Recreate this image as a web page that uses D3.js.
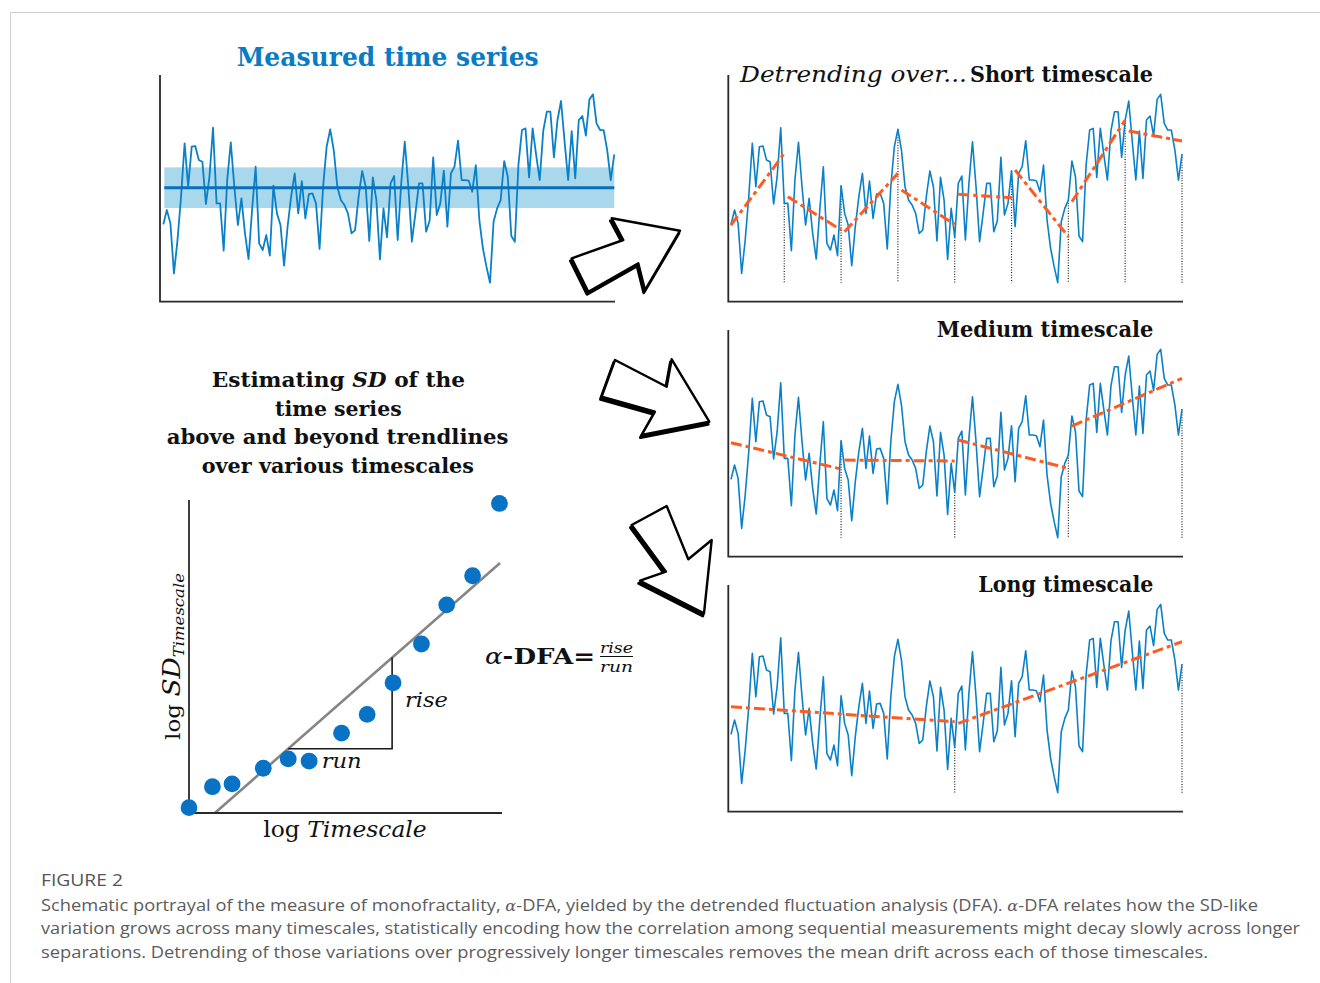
<!DOCTYPE html>
<html>
<head>
<meta charset="utf-8">
<script src="https://cdn.jsdelivr.net/npm/d3@7"></script>
<style>
  body { margin: 0; background: #fff; }
  text { font-family: "DejaVu Serif", serif; }
</style>
</head>
<body>
<script>
// measured time series (128 samples, arbitrary units, mean ~0)
const series = [
  -11.0, -6.7, -10.7, -25.7, -15.7, -2.7, 13.3, 0.3, 12.3, 12.5, 8.3, 7.8, -4.9, 3.3, 18.0, -4.7,
  -4.7, -18.9, 2.3, 13.6, 0.3, -11.2, -3.2, -13.7, -21.4, -6.7, 6.3, -16.7, -18.7, -14.2, -20.4, 0.6,
  -7.7, -11.2, -23.4, -11.7, -2.7, 4.3, -7.7, 2.0, -9.2, -1.9, -1.7, -4.7, -18.4, 0.3, 12.3, 17.5,
  11.3, 0.3, -3.7, -5.2, -7.7, -13.7, -12.7, -2.7, 5.0, 0.3, -16.0, 3.1, -3.7, -21.5, -6.2, -14.9,
  1.3, 3.5, -15.7, 1.3, 13.8, 0.3, -16.2, -7.7, 1.3, 1.3, -13.2, -9.9, 9.1, -8.2, -4.7, 5.1,
  -11.7, 4.3, 6.3, 14.1, 2.3, 2.3, 2.1, -1.2, 6.8, -9.7, -18.2, -23.7, -28.5, -10.2, -6.2, -3.7,
  8.0, 3.3, -14.5, -16.2, 6.8, 17.3, 17.8, 3.1, 17.8, 9.8, 2.3, 17.1, 22.8, 22.8, 9.1, 20.3,
  26.0, 13.8, 2.3, 17.0, 2.8, 20.3, 21.5, 15.6, 26.5, 28.0, 19.3, 17.3, 17.3, 11.3, 2.3, 10.0
];
const meanLevel = 0;
const bandHalf = 6.1;

// trend lines per window: [start value, end value]
const shortTrend = [[-11.2, 10.3], [-2.7, -12.7], [-13.2, 4.3], [-0.7, -11.0],
                    [-2.0, -3.0], [5.3, -14.7], [-4.2, 20.3], [17.0, 14.0]];
const mediumTrend = [[0.0, -7.9], [-5.2, -5.5], [0.8, -7.7], [5.0, 19.3]];
const longTrend = [[-2.7, -7.2], [-7.7, 16.8]];

const panelNames = ['Short timescale', 'Medium timescale', 'Long timescale'];

// log-log scatter
const logTimescale = [0.0, 0.75, 1.38, 2.38, 3.18, 3.85, 4.89, 5.71, 6.54, 7.45, 8.26, 9.09, 9.95];
const logSD = [0.17, 0.84, 0.93, 1.43, 1.73, 1.66, 2.55, 3.15, 4.16, 5.40, 6.65, 7.58, 9.89];
const fitLine = [[0.83, 0.0], [9.97, 7.99]];
const triangleRun = [3.18, 6.51];

const titleLines = ['Estimating ', 'time series', 'above and beyond trendlines', 'over various timescales'];
const captionLines = [
  ['Schematic portrayal of the measure of monofractality, ', 'α', '-DFA, yielded by the detrended fluctuation analysis (DFA). ', 'α', '-DFA relates how the SD-like'],
  ['variation grows across many timescales, statistically encoding how the correlation among sequential measurements might decay slowly across longer'],
  ['separations. Detrending of those variations over progressively longer timescales removes the mean drift across each of those timescales.']
];

const w = 1320;
const h = 983;
const blue = '#0a80c8';
const orange = '#ff5a1f';

const svg = d3.select('body').append('svg')
  .attr('width', w)
  .attr('height', h);

// frame
svg.append('path')
  .attr('d', 'M10.5,983 V12.5 H1320')
  .attr('fill', 'none')
  .attr('stroke', '#cfcfcf')
  .attr('stroke-width', 1);

const seriesMin = d3.min(series);

// ---- measured time series (top left)
const xL = d3.scaleLinear().domain([0, series.length - 1]).range([163.3, 614.3]);
const yL = d3.scaleLinear().domain([-30, 30]).range([287.7, 87.7]);

svg.append('text')
  .attr('x', 236.7).attr('y', 66)
  .attr('textLength', 302).attr('lengthAdjust', 'spacingAndGlyphs')
  .attr('font-size', 26).attr('font-weight', 'bold')
  .attr('fill', '#0a7cc6')
  .text('Measured time series');

svg.append('rect')
  .attr('x', 164.3).attr('width', 450)
  .attr('y', yL(meanLevel + bandHalf))
  .attr('height', yL(meanLevel - bandHalf) - yL(meanLevel + bandHalf))
  .attr('fill', '#a9d7ec');

svg.append('path')
  .datum(series)
  .attr('d', d3.line().x((d, i) => xL(i)).y(d => yL(d)))
  .attr('fill', 'none')
  .attr('stroke', blue)
  .attr('stroke-width', 1.8)
  .attr('stroke-linejoin', 'round');

svg.append('line')
  .attr('x1', 164.3).attr('x2', 614.3)
  .attr('y1', yL(meanLevel)).attr('y2', yL(meanLevel))
  .attr('stroke', '#0a6fb8')
  .attr('stroke-width', 3);

function axesL(g, x0, y0, x1, y1) {
  g.append('path')
    .attr('d', `M${x0},${y0} V${y1} H${x1}`)
    .attr('fill', 'none')
    .attr('stroke', '#2a2a2a')
    .attr('stroke-width', 1.8);
}
axesL(svg, 160, 75, 615, 301.7);

// ---- detrended panels (right)
const xR = d3.scaleLinear().domain([0, series.length - 1]).range([731, 1182]);
const panels = [
  { trend: shortTrend, dy: 0, name: panelNames[0] },
  { trend: mediumTrend, dy: 255, name: panelNames[1] },
  { trend: longTrend, dy: 510, name: panelNames[2] }
];

panels.forEach(p => {
  const yR = d3.scaleLinear().domain([-30, 30]).range([287.7 + p.dy, 87.7 + p.dy]);
  const n = series.length / p.trend.length;
  const ends = p.trend.map((t, k) => (k + 1) * n - 1);
  const g = svg.append('g');

  axesL(g, 728.3, 75 + p.dy, 1183, 301.7 + p.dy);

  g.selectAll('line.sep')
    .data(ends)
    .enter()
    .append('line')
    .attr('x1', d => xR(d)).attr('x2', d => xR(d))
    .attr('y1', d => yR(series[d])).attr('y2', yR(seriesMin))
    .attr('stroke', '#222')
    .attr('stroke-width', 1.2)
    .attr('stroke-dasharray', '1,1.6');

  g.append('path')
    .datum(series)
    .attr('d', d3.line().x((d, i) => xR(i)).y(d => yR(d)))
    .attr('fill', 'none')
    .attr('stroke', blue)
    .attr('stroke-width', 1.6)
    .attr('stroke-linejoin', 'round');

  g.selectAll('line.trend')
    .data(p.trend)
    .enter()
    .append('line')
    .attr('x1', (d, k) => xR(k * n)).attr('x2', (d, k) => xR(k * n + n - 1))
    .attr('y1', d => yR(d[0])).attr('y2', d => yR(d[1]))
    .attr('stroke', orange)
    .attr('stroke-width', 3)
    .attr('stroke-dasharray', '11,4,4,4');

  const t = g.append('text')
    .attr('font-size', 22)
    .attr('font-weight', 'bold')
    .attr('fill', '#111');
  if (p.dy === 0) {
    g.append('text')
      .attr('x', 740).attr('y', 82)
      .attr('textLength', 227).attr('lengthAdjust', 'spacingAndGlyphs')
      .attr('font-size', 22).attr('font-style', 'italic')
      .attr('fill', '#111')
      .text('Detrending over...');
    t.attr('x', 970).attr('y', 82).attr('textLength', 183);
  } else if (p.dy === 255) {
    t.attr('x', 936.7).attr('y', 337).attr('textLength', 216.6);
  } else {
    t.attr('x', 978.3).attr('y', 592).attr('textLength', 175);
  }
  t.attr('lengthAdjust', 'spacingAndGlyphs').text(p.name);
});

// ---- arrows
const arrows = [
  [[571.7, 258.3], [623.3, 240], [611.7, 218.3], [680, 230.7], [645, 290], [638.3, 263.3], [588.3, 291.7]],
  [[615, 360], [666.7, 386.7], [671.7, 359.3], [709.3, 421.7], [641.7, 435], [655, 411.7], [601.7, 396.7]],
  [[631.7, 525], [666.7, 506], [688.3, 559.3], [711.7, 540], [704, 613.3], [640, 580.7], [666, 571.7]]
];
arrows.forEach(a => {
  const pts = a.map(d => d.join(',')).join(' ');
  svg.append('polygon')
    .attr('points', pts)
    .attr('transform', 'translate(-1.2,2.6)')
    .attr('fill', '#000')
    .attr('stroke', '#000')
    .attr('stroke-width', 3)
    .attr('stroke-linejoin', 'round');
  svg.append('polygon')
    .attr('points', pts)
    .attr('fill', '#fff')
    .attr('stroke', '#000')
    .attr('stroke-width', 2.4)
    .attr('stroke-linejoin', 'round');
});

// ---- explanatory block
const blockSpec = [
  { x: 211.7, y: 387.3, len: 253.3 },
  { x: 275, y: 416, len: 126.7 },
  { x: 166.7, y: 444.3, len: 341.7 },
  { x: 201.7, y: 472.7, len: 272.3 }
];
titleLines.forEach((s, i) => {
  const t = svg.append('text')
    .attr('x', blockSpec[i].x).attr('y', blockSpec[i].y)
    .attr('textLength', blockSpec[i].len).attr('lengthAdjust', 'spacingAndGlyphs')
    .attr('font-size', 21).attr('font-weight', 'bold')
    .attr('fill', '#111');
  t.append('tspan').text(s);
  if (i === 0) {
    t.append('tspan').attr('font-style', 'italic').text('SD');
    t.append('tspan').text(' of the');
  }
});

// ---- log-log scatter
const xS = d3.scaleLinear().domain([0, 10]).range([189, 501]);
const yS = d3.scaleLinear().domain([0, 10]).range([813, 500]);

svg.append('line')
  .attr('x1', xS(fitLine[0][0])).attr('y1', yS(fitLine[0][1]))
  .attr('x2', xS(fitLine[1][0])).attr('y2', yS(fitLine[1][1]))
  .attr('stroke', '#858585')
  .attr('stroke-width', 2.6);

const slope = (fitLine[1][1] - fitLine[0][1]) / (fitLine[1][0] - fitLine[0][0]);
const fitAt = u => fitLine[0][1] + slope * (u - fitLine[0][0]);
svg.append('path')
  .attr('d', `M${xS(triangleRun[0])},${yS(fitAt(triangleRun[0]))} H${xS(triangleRun[1])} V${yS(fitAt(triangleRun[1]))}`)
  .attr('fill', 'none')
  .attr('stroke', '#1a1a1a')
  .attr('stroke-width', 1.6);

axesL(svg, 189, 500, 502, 813);

svg.selectAll('circle.pt')
  .data(logTimescale)
  .enter()
  .append('circle')
  .attr('cx', d => xS(d))
  .attr('cy', (d, i) => yS(logSD[i]))
  .attr('r', 8.4)
  .attr('fill', '#0872c4');

svg.append('text')
  .attr('x', 405).attr('y', 706.5)
  .attr('textLength', 43).attr('lengthAdjust', 'spacingAndGlyphs')
  .attr('font-size', 21).attr('font-style', 'italic').attr('fill', '#111')
  .text('rise');
svg.append('text')
  .attr('x', 321.7).attr('y', 767.5)
  .attr('textLength', 40).attr('lengthAdjust', 'spacingAndGlyphs')
  .attr('font-size', 21).attr('font-style', 'italic').attr('fill', '#111')
  .text('run');

// axis labels
svg.append('text')
  .attr('x', 263.3).attr('y', 837)
  .attr('textLength', 163.4).attr('lengthAdjust', 'spacingAndGlyphs')
  .attr('font-size', 22).attr('fill', '#111')
  .call(t => {
    t.append('tspan').text('log ');
    t.append('tspan').attr('font-style', 'italic').text('Timescale');
  });

svg.append('text')
  .attr('transform', 'translate(180,740) rotate(-90)')
  .attr('textLength', 167).attr('lengthAdjust', 'spacingAndGlyphs')
  .attr('font-size', 21).attr('fill', '#111')
  .call(t => {
    t.append('tspan').text('log ');
    t.append('tspan').attr('font-style', 'italic').attr('font-size', 24).text('SD');
    t.append('tspan').attr('font-style', 'italic').attr('font-size', 15).attr('dy', 4).text('Timescale');
  });

// alpha-DFA formula
svg.append('text')
  .attr('x', 485).attr('y', 663.5)
  .attr('textLength', 110).attr('lengthAdjust', 'spacingAndGlyphs')
  .attr('font-size', 22).attr('fill', '#111')
  .call(t => {
    t.append('tspan').attr('font-style', 'italic').text('α');
    t.append('tspan').attr('font-weight', 'bold').text('-DFA=');
  });
svg.append('text')
  .attr('x', 600).attr('y', 652.5)
  .attr('textLength', 33).attr('lengthAdjust', 'spacingAndGlyphs')
  .attr('font-size', 15).attr('font-style', 'italic').attr('fill', '#111')
  .text('rise');
svg.append('line')
  .attr('x1', 600).attr('x2', 633)
  .attr('y1', 656.5).attr('y2', 656.5)
  .attr('stroke', '#111').attr('stroke-width', 1);
svg.append('text')
  .attr('x', 600).attr('y', 671.5)
  .attr('textLength', 33).attr('lengthAdjust', 'spacingAndGlyphs')
  .attr('font-size', 15).attr('font-style', 'italic').attr('fill', '#111')
  .text('run');

// ---- caption
svg.append('text')
  .attr('x', 41).attr('y', 886)
  .attr('textLength', 82).attr('lengthAdjust', 'spacingAndGlyphs')
  .attr('font-size', 17)
  .style('font-family', '"Open Sans", sans-serif')
  .attr('fill', '#555')
  .text('FIGURE 2');

const capEnds = [1258, 1300, 1208];
const capBase = [910.5, 934.3, 958];
captionLines.forEach((parts, i) => {
  const t = svg.append('text')
    .attr('x', 41).attr('y', capBase[i])
    .attr('textLength', capEnds[i] - 41).attr('lengthAdjust', 'spacingAndGlyphs')
    .attr('font-size', 17)
    .style('font-family', '"Open Sans", sans-serif')
    .attr('fill', '#5c5c5c');
  parts.forEach(s => {
    const sp = t.append('tspan').text(s);
    if (s === 'α') sp.style('font-family', '"DejaVu Serif", serif').attr('font-style', 'italic').attr('font-size', 15);
  });
});
</script>
</body>
</html>
